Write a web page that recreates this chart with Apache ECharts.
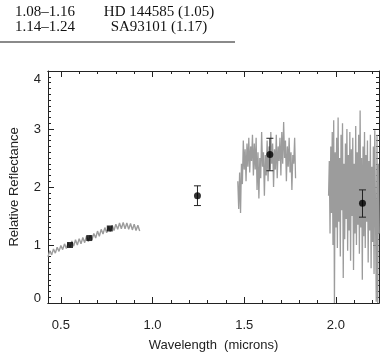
<!DOCTYPE html>
<html>
<head>
<meta charset="utf-8">
<script src="https://cdn.jsdelivr.net/npm/echarts@6/dist/echarts.min.js"></script>
<style>
html,body{margin:0;padding:0;background:#fff;}
#chart{width:382px;height:357px;}
</style>
</head>
<body>
<div id="chart"></div>
<script>
// ---- Table rows (fragment above the chart) ----
var tableRanges = ['1.08\u20131.16', '1.14\u20131.24'];
var tableStars = ['HD 144585 (1.05)', 'SA93101 (1.17)'];

// ---- Axis ticks ----
var xMajorTicks = [0.5, 1.0, 1.5, 2.0];
var xMinorTicks = [0.5, 0.6, 0.7, 0.8, 0.9, 1.0, 1.1, 1.2, 1.3, 1.4, 1.5, 1.6, 1.7, 1.8, 1.9, 2.0, 2.1, 2.2];
var yTickValues = [0, 1, 2, 3, 4];

// ---- Spectrum segments [wavelength, reflectance] ----
var specVisible = [
 [0.43,0.80],[0.44,0.90],[0.45,0.83],[0.46,0.93],[0.47,0.86],[0.48,0.96],[0.49,0.89],[0.50,0.99],
 [0.51,0.92],[0.52,1.02],[0.53,0.94],[0.54,1.04],[0.55,0.96],[0.56,1.07],[0.57,0.98],[0.58,1.09],
 [0.59,1.00],[0.60,1.11],[0.61,1.02],[0.62,1.13],[0.63,1.04],[0.64,1.15],[0.65,1.06],[0.66,1.17],
 [0.67,1.09],[0.68,1.20],[0.69,1.12],[0.70,1.24],[0.71,1.15],[0.72,1.27],[0.73,1.19],[0.74,1.30],
 [0.75,1.21],[0.76,1.32],[0.77,1.23],[0.78,1.34],[0.79,1.25],[0.80,1.36],[0.81,1.27],[0.82,1.38],
 [0.83,1.28],[0.84,1.39],[0.85,1.28],[0.86,1.38],[0.87,1.27],[0.88,1.37],[0.89,1.26],[0.90,1.36],
 [0.91,1.25],[0.92,1.34],[0.93,1.24]
];
var specH = [
 [1.465,2.10],[1.470,1.62],[1.475,2.25],[1.480,1.55],[1.485,2.40],[1.490,2.05],[1.495,2.80],[1.500,2.30],
 [1.505,2.65],[1.510,2.10],[1.515,2.75],[1.520,2.35],[1.525,2.85],[1.530,2.25],[1.535,2.70],[1.540,2.45],
 [1.545,2.90],[1.550,2.20],[1.555,2.75],[1.560,2.30],[1.565,2.85],[1.570,1.95],[1.575,2.60],[1.580,1.80],
 [1.585,2.50],[1.590,2.15],[1.595,2.95],[1.600,2.35],[1.605,2.60],[1.610,1.85],[1.615,2.55],[1.620,2.20],
 [1.625,2.80],[1.630,2.10],[1.635,2.70],[1.640,2.30],[1.645,2.95],[1.650,2.40],[1.655,2.75],[1.660,2.00],
 [1.665,2.65],[1.670,2.30],[1.675,2.90],[1.680,2.15],[1.685,2.70],[1.690,2.45],[1.695,2.85],[1.700,2.20],
 [1.705,2.95],[1.710,2.40],[1.715,3.12],[1.720,2.50],[1.725,2.80],[1.730,2.10],[1.735,2.70],[1.740,2.35],
 [1.745,2.85],[1.750,2.25],[1.755,2.60],[1.760,1.95],[1.765,2.55],[1.770,2.40],[1.775,2.85],[1.780,2.15]
];
var specK = [
 [1.960,1.85],[1.964,2.45],[1.968,1.20],[1.972,2.70],[1.976,1.55],[1.980,2.95],[1.984,1.00],[1.988,3.15],
 [1.992,0.00],[1.996,2.60],[2.000,1.30],[2.004,2.85],[2.008,0.95],[2.012,3.20],[2.016,1.40],[2.020,2.50],
 [2.024,0.80],[2.028,2.90],[2.032,1.60],[2.036,3.10],[2.040,0.43],[2.044,2.40],[2.048,1.10],[2.052,2.75],
 [2.056,1.45],[2.060,3.00],[2.064,0.90],[2.068,2.55],[2.072,1.25],[2.076,2.95],[2.080,0.73],[2.084,2.65],
 [2.088,1.50],[2.092,2.85],[2.096,0.57],[2.100,2.40],[2.104,1.20],[2.108,3.05],[2.112,1.00],[2.116,2.60],
 [2.120,1.35],[2.124,2.90],[2.128,0.85],[2.132,3.32],[2.136,1.30],[2.140,2.50],[2.144,0.40],[2.148,2.70],
 [2.152,1.15],[2.156,2.95],[2.160,0.95],[2.164,2.55],[2.168,1.40],[2.172,2.80],[2.176,0.70],[2.180,2.45],
 [2.184,1.25],[2.188,2.90],[2.192,0.60],[2.196,2.35],[2.200,1.05],[2.204,2.70],[2.208,0.50],[2.212,2.98],
 [2.216,2.98],[2.220,0.02],[2.224,2.90],[2.228,0.00],[2.232,2.40],[2.236,1.20]
];

// ---- Photometry ----
var squareX = [0.55, 0.655, 0.767];
var squareY = [1.00, 1.12, 1.285];
var circleX = [1.245, 1.64, 2.145];
var circleY = [1.85, 2.56, 1.72];
var errLow  = [1.68, 2.28, 1.48];
var errHigh = [2.02, 2.84, 1.95];

var GRAY = '#9c9c9c';
var INK = '#222';
var FONT = 'Liberation Sans, Arial, Helvetica, sans-serif';

var squares = squareX.map(function (x, i) { return [x, squareY[i]]; });
var circles = circleX.map(function (x, i) { return [x, circleY[i]]; });
var errs = circleX.map(function (x, i) { return [x, errLow[i], errHigh[i]]; });

var chart = echarts.init(document.getElementById('chart'), null, {renderer: 'canvas'});

function xAx(pos, ticks, len, labels) {
  return {
    type: 'value', position: pos, min: 0.43, max: 2.235, gridIndex: 0,
    axisLine: {show: true, onZero: false, lineStyle: {color: INK, width: 1}},
    axisTick: {show: true, inside: true, length: len, customValues: ticks, lineStyle: {color: INK, width: 1}},
    axisLabel: labels ? {show: true, customValues: xMajorTicks, margin: 16, color: INK, fontSize: 13, fontFamily: FONT,
      formatter: function (v) { return v.toFixed(1); }} : {show: false},
    splitLine: {show: false}
  };
}

function yAx(pos, labels) {
  return {
    type: 'value', position: pos, min: 0, max: 4, interval: 1, gridIndex: 0,
    axisLine: {show: true, onZero: false, lineStyle: {color: INK, width: 1}},
    axisTick: {show: true, inside: true, length: 6, lineStyle: {color: INK, width: 1}},
    minorTick: {show: true, splitNumber: 10, length: 3, lineStyle: {color: INK, width: 1}},
    axisLabel: labels ? {show: true, margin: 7, color: INK, fontSize: 13, fontFamily: FONT,
      customValues: yTickValues,
      formatter: function (v) {
        if (v === 4) return '{top|4}';
        if (v === 0) return '{bot|0}';
        return String(v);
      },
      rich: {
        top: {padding: [16, 0, 0, 0], color: INK, fontSize: 13, fontFamily: FONT},
        bot: {padding: [0, 0, 10, 0], color: INK, fontSize: 13, fontFamily: FONT}
      }} : {show: false},
    splitLine: {show: false},
    minorSplitLine: {show: false}
  };
}

var xAxes = [xAx('bottom', xMajorTicks, 6, true), xAx('bottom', xMinorTicks, 3, false),
             xAx('top', xMajorTicks, 6, false), xAx('top', xMinorTicks, 3, false)];
xAxes[0].name = 'Wavelength  (microns)';
xAxes[0].nameLocation = 'middle';
xAxes[0].nameGap = 36;
xAxes[0].nameTextStyle = {color: INK, fontSize: 13, fontFamily: FONT};

var yAxes = [yAx('left', true), yAx('right', false)];
yAxes[0].name = 'Relative Reflectance';
yAxes[0].nameLocation = 'middle';
yAxes[0].nameGap = 27;
yAxes[0].nameTextStyle = {color: INK, fontSize: 13, fontFamily: FONT};

function specSeries(data, w) {
  return {type: 'line', xAxisIndex: 0, yAxisIndex: 0, data: data, showSymbol: false, symbol: 'none',
    clip: true, lineStyle: {color: GRAY, width: w}, z: 2, silent: true};
}

var tableGraphics = [];
tableRanges.forEach(function (t, i) {
  tableGraphics.push({type: 'text', x: 45, y: 12 + i * 15,
    style: {text: t, font: '15px "Liberation Serif", "Times New Roman", serif', fill: '#111',
      align: 'center', verticalAlign: 'middle'}});
  tableGraphics.push({type: 'text', x: 159, y: 12 + i * 15,
    style: {text: tableStars[i], font: '15px "Liberation Serif", "Times New Roman", serif', fill: '#111',
      align: 'center', verticalAlign: 'middle'}});
});
tableGraphics.push({type: 'line', shape: {x1: 0, y1: 42, x2: 235, y2: 42},
  style: {stroke: '#8a8a8a', lineWidth: 2}});

chart.setOption({
  animation: false,
  backgroundColor: '#fff',
  grid: {left: 42, right: 3, top: 71, bottom: 46, containLabel: false},
  xAxis: xAxes,
  yAxis: yAxes,
  graphic: tableGraphics,
  series: [
    specSeries(specVisible, 1.4),
    specSeries(specH, 1.3),
    specSeries(specK, 1.3),
    {
      type: 'custom', xAxisIndex: 0, yAxisIndex: 0, data: errs, z: 5, silent: true,
      renderItem: function (params, api) {
        var x = api.value(0);
        var pLo = api.coord([x, api.value(1)]);
        var pHi = api.coord([x, api.value(2)]);
        var hw = 3.5;
        var st = {stroke: '#222', lineWidth: 1};
        return {type: 'group', children: [
          {type: 'line', shape: {x1: pLo[0], y1: pLo[1], x2: pHi[0], y2: pHi[1]}, style: st},
          {type: 'line', shape: {x1: pLo[0] - hw, y1: pLo[1], x2: pLo[0] + hw, y2: pLo[1]}, style: st},
          {type: 'line', shape: {x1: pHi[0] - hw, y1: pHi[1], x2: pHi[0] + hw, y2: pHi[1]}, style: st}
        ]};
      }
    },
    {type: 'scatter', xAxisIndex: 0, yAxisIndex: 0, data: circles, symbol: 'circle', symbolSize: 7,
      itemStyle: {color: '#000'}, z: 6, silent: true},
    {type: 'scatter', xAxisIndex: 0, yAxisIndex: 0, data: squares, symbol: 'rect', symbolSize: 6,
      itemStyle: {color: '#000'}, z: 6, silent: true}
  ]
});
</script>
</body>
</html>
